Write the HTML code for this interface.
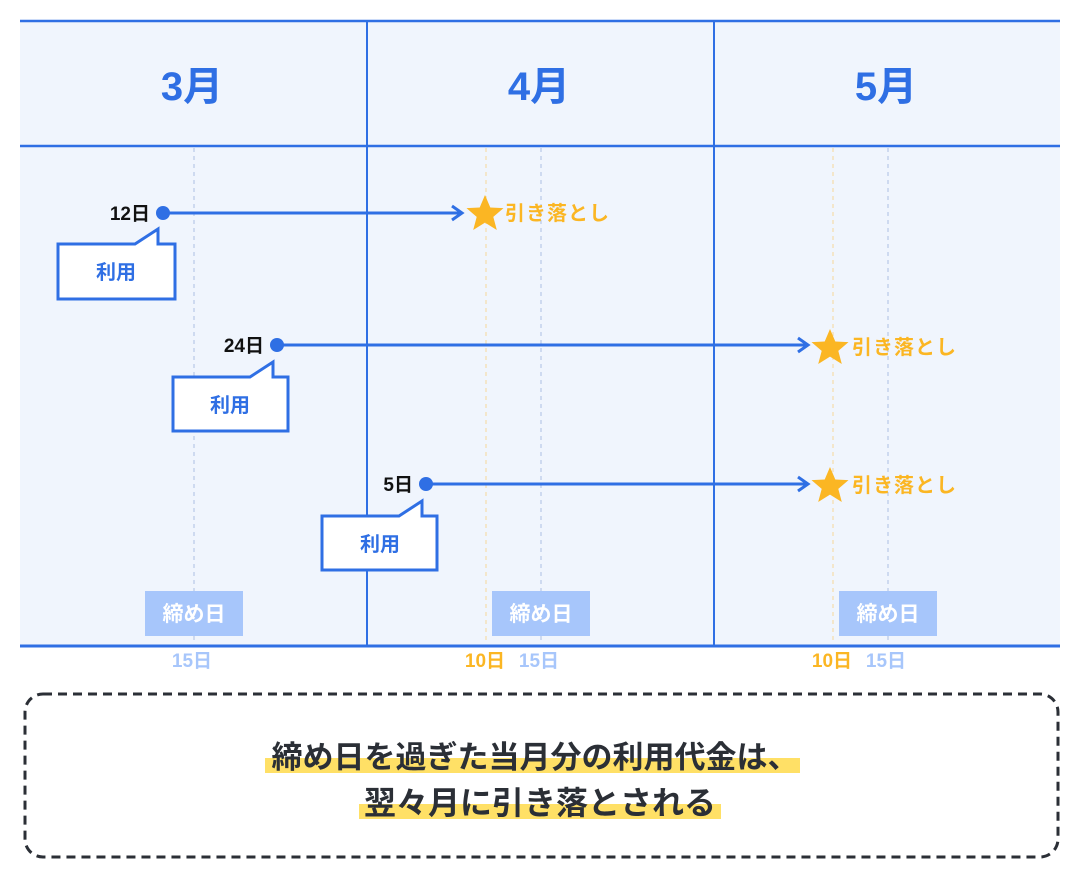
<!DOCTYPE html>
<html><head><meta charset="utf-8"><style>
body{margin:0;background:#fff;}
svg{display:block;font-family:"Liberation Sans","Noto Sans CJK JP",sans-serif;font-weight:bold;}
</style></head><body>
<svg width="1080" height="880" viewBox="0 0 1080 880">
<defs><polygon id="st" points="0,-19 5.3,-6.5 18.5,-5.9 8.3,2.9 11.8,16 0,8.6 -11.8,16 -8.3,2.9 -18.5,-5.9 -5.3,-6.5" fill="#fbb623"/></defs>
<rect x="20" y="21" width="1040" height="625" fill="#f0f5fd"/>
<g stroke-dasharray="4,4" stroke-width="1.2">
<line x1="194" y1="148" x2="194" y2="644" stroke="#b7c8e8"/>
<line x1="541" y1="148" x2="541" y2="644" stroke="#b7c8e8"/>
<line x1="888" y1="148" x2="888" y2="644" stroke="#b7c8e8"/>
<line x1="486" y1="148" x2="486" y2="644" stroke="#f5dcaa"/>
<line x1="833" y1="148" x2="833" y2="644" stroke="#f5dcaa"/>
</g>
<g stroke="#2f6fe4" stroke-width="2.5">
<line x1="20" y1="21" x2="1060" y2="21"/>
<line x1="20" y1="146" x2="1060" y2="146"/>
<line x1="20" y1="646" x2="1060" y2="646" stroke-width="3"/>
<line x1="367" y1="21" x2="367" y2="646" stroke-width="2"/>
<line x1="714" y1="21" x2="714" y2="646" stroke-width="2"/>
</g>
<g fill="#2f6fe4" font-size="40" text-anchor="middle">
<text x="192" y="100">3月</text><text x="539" y="100">4月</text><text x="886" y="100">5月</text>
</g>
<g stroke="#2f6fe4" stroke-width="3" fill="none">
<line x1="163" y1="213" x2="460" y2="213"/><polyline points="452,206 462,213 452,220"/>
<line x1="277" y1="345" x2="806" y2="345"/><polyline points="798,338 808,345 798,352"/>
<line x1="426" y1="484" x2="806" y2="484"/><polyline points="798,477 808,484 798,491"/>
</g>
<g fill="#2f6fe4"><circle cx="163" cy="213" r="7"/><circle cx="277" cy="345" r="7"/><circle cx="426" cy="484" r="7"/></g>
<g font-size="19" fill="#111" text-anchor="end">
<text x="150" y="220">12日</text><text x="264" y="352">24日</text><text x="413" y="491">5日</text>
</g>
<g fill="#fff" stroke="#2f6fe4" stroke-width="3">
<polygon points="58,244 135,244 158,229 158,244 175,244 175,299 58,299"/>
<polygon points="173,377 250,377 273,362 273,377 288,377 288,431 173,431"/>
<polygon points="322,516 399,516 422,501 422,516 437,516 437,570 322,570"/>
</g>
<g fill="#2f6fe4" font-size="20" text-anchor="middle">
<text x="116" y="279">利用</text><text x="230" y="412">利用</text><text x="380" y="551">利用</text>
</g>
<use href="#st" x="485" y="214"/><use href="#st" x="830" y="348"/><use href="#st" x="830" y="486"/>
<g fill="#fbb623" font-size="20" letter-spacing="1">
<text x="505" y="220">引き落とし</text><text x="852" y="354">引き落とし</text><text x="852" y="492">引き落とし</text>
</g>
<g fill="#a7c6fb"><rect x="145" y="591" width="98" height="45"/><rect x="492" y="591" width="98" height="45"/><rect x="839" y="591" width="98" height="45"/></g>
<g fill="#fff" font-size="21" text-anchor="middle">
<text x="194" y="621">締め日</text><text x="541" y="621">締め日</text><text x="888" y="621">締め日</text>
</g>
<g font-size="19" text-anchor="middle">
<text x="192" y="667" fill="#a7c6fb">15日</text>
<text x="539" y="667" fill="#a7c6fb">15日</text>
<text x="886" y="667" fill="#a7c6fb">15日</text>
<text x="485" y="667" fill="#fbb623">10日</text>
<text x="832" y="667" fill="#fbb623">10日</text>
</g>
<rect x="25" y="694" width="1033" height="163" rx="18" fill="#fff" stroke="#2b2f36" stroke-width="3" stroke-dasharray="9,6"/>
<rect x="265" y="758" width="535" height="15" fill="#ffe066"/>
<rect x="359" y="804" width="362" height="15" fill="#ffe066"/>
<g fill="#2b2f36" text-anchor="middle">
<text x="535" y="768" font-size="31">締め日を過ぎた当月分の利用代金は、</text>
<text x="540" y="814" font-size="32">翌々月に引き落とされる</text>
</g>
</svg>
</body></html>
